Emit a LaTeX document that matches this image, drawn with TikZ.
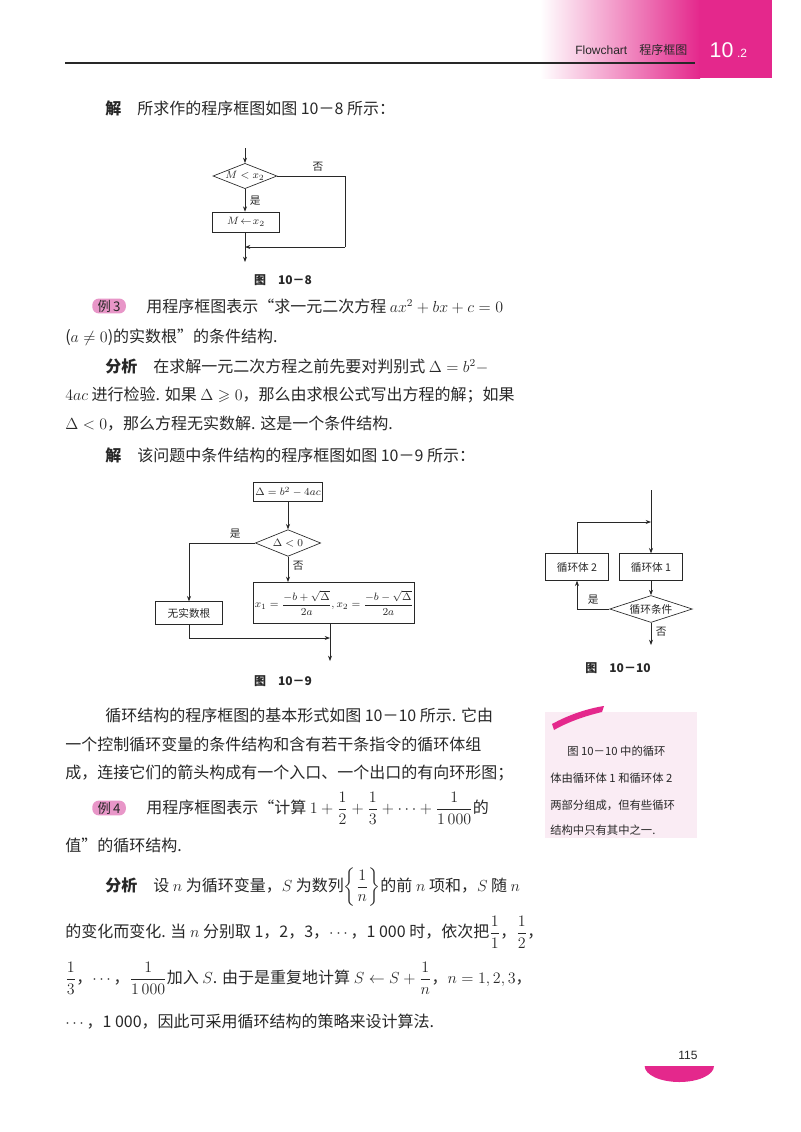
\documentclass[tikz,border=0pt]{standalone}
\usepackage{amsmath,amssymb}
\usepackage{fontspec}
\setmainfont{Noto Sans CJK SC}
\newfontfamily\hdfont{Liberation Sans}
\usetikzlibrary{shapes.geometric,arrows.meta}
\definecolor{pinkM}{RGB}{228,40,140}
\definecolor{pinkL}{RGB}{232,150,200}
\definecolor{noteBg}{RGB}{250,236,244}
\definecolor{ink}{RGB}{40,40,40}
\begin{document}
\begin{tikzpicture}[x=0.75pt,y=-0.75pt,
  txt/.style={anchor=west,inner sep=0pt,font=\fontsize{12}{13}\selectfont,text=ink},
  dtxt/.style={font=\fontsize{8}{9}\selectfont,text=ink},
  fbox/.style={draw=ink,line width=0.5pt,inner sep=1pt,dtxt},
  fdia/.style={diamond,draw=ink,line width=0.5pt,inner sep=0pt,aspect=2.5,dtxt},
  conn/.style={draw=ink,line width=0.5pt},
  arr/.style={conn,-{Stealth[length=4pt,width=3pt]}},
  figcap/.style={font=\fontsize{9}{10}\selectfont\bfseries,text=ink},
  tag/.style={fill=pinkL,rounded corners=5pt,inner xsep=4pt,inner ysep=1pt,font=\fontsize{10}{11}\selectfont,text=ink,anchor=west},
  note/.style={anchor=west,inner sep=0pt,font=\fontsize{8.5}{10}\selectfont,text=ink}]
\useasboundingbox (0,0) rectangle (800,1132);
\fill[white] (0,0) rectangle (800,1132);
% header
\shade[left color=white,right color=pinkM] (540,0) rectangle (700,78);
\fill[pinkM] (699,0) rectangle (772,78);
\draw[ink,line width=0.8pt] (65,63) -- (695,63);
\node[anchor=east,font=\fontsize{9}{10}\selectfont,text=ink] (hd) at (692,50) {{\hdfont Flowchart}\quad 程序框图};
\node[anchor=west,font=\hdfont\fontsize{16}{18}\selectfont,text=white] (hn) at (705,50) {10\,{\fontsize{9}{10}\selectfont .2}};
% text
\node[txt] (t1) at (105,108) {\textbf{解}\quad 所求作的程序框图如图 10－8 所示：};
% fig 10-8
\node[fdia,minimum width=48pt,minimum height=19pt] (d1) at (245,176) {$M<x_2$};
\coordinate (e1) at (245,148);
\draw[arr] (e1) -- (d1.north);
\node[fbox,minimum width=50pt,minimum height=15pt] (b1) at (246,222) {$M\!\leftarrow\! x_2$};
\draw[arr] (d1.south) -- node[right,dtxt]{是} (b1.north -| d1.south);
\coordinate (r1) at (345,176);
\coordinate (o1) at (245,262);
\path (d1.east) -- node[above,dtxt,pos=0.6]{否} (r1);
\draw[conn] (d1.east) -- (r1) -- (345,247);
\coordinate (j1) at (245,247);
\draw[arr] (345,247) -- (j1);
\draw[arr] (b1.south -| d1.south) -- (o1);
\node[figcap] (c1) at (283,280) {图\quad 10－8};
% example 3
\node[tag] (ex3) at (92,306) {例\,3};
\node[txt] (t2) at (146,306) {用程序框图表示“求一元二次方程 $ax^2+bx+c=0$};
\node[txt] (t3) at (65,337) {($a\neq0$)的实数根”的条件结构.};
\node[txt] (t4) at (105,366) {\textbf{分析}\quad 在求解一元二次方程之前先要对判别式 $\Delta=b^2-$};
\node[txt] (t5) at (65,395) {$4ac$ 进行检验. 如果 $\Delta\geqslant0$，那么由求根公式写出方程的解；如果};
\node[txt] (t6) at (65,424) {$\Delta<0$，那么方程无实数解. 这是一个条件结构.};
\node[txt] (t7) at (105,455) {\textbf{解}\quad 该问题中条件结构的程序框图如图 10－9 所示：};
% fig 10-9
\node[fbox,minimum width=52pt,minimum height=14pt] (b2) at (288,492) {$\Delta=b^2-4ac$};
\node[fdia,minimum width=49pt,minimum height=20pt] (d2) at (288,543) {$\Delta<0$};
\draw[arr] (b2.south) -- (d2.north);
\node[fbox,minimum width=50pt,minimum height=17pt] (b3) at (189,613) {无实数根};
\node[fbox,minimum width=116pt,minimum height=31pt] (b4) at (334,603) {$x_1=\dfrac{-b+\sqrt{\Delta}}{2a},x_2=\dfrac{-b-\sqrt{\Delta}}{2a}$};
\coordinate (l2) at (189,543);
\draw[conn] (d2.west) -- node[above,dtxt,pos=0.3]{是} (l2);
\draw[arr] (l2) -- (b3.north);
\draw[arr] (d2.south) -- node[right,dtxt,pos=0.35]{否} (d2.south |- b4.north);
\coordinate (l3) at (189,638);
\coordinate (j2) at (330,638);
\draw[conn] (b3.south) -- (l3);
\draw[arr] (l3) -- (j2);
\coordinate (o2) at (330,661);
\draw[arr] (b4.south -| o2) -- (o2);
\node[figcap] (c2) at (283,681) {图\quad 10－9};
% fig 10-10
\node[fbox,minimum width=47pt,minimum height=20pt] (b5) at (651,567) {循环体 1};
\node[fbox,minimum width=47pt,minimum height=20pt] (b6) at (577,567) {循环体 2};
\node[fdia,minimum width=62pt,minimum height=18pt] (d3) at (651,609) {循环条件};
\coordinate (e3) at (651,490);
\coordinate (j3) at (651,522);
\coordinate (u3) at (577,522);
\draw[arr] (e3) -- (b5.north);
\draw[conn] (b6.north) -- (u3);
\draw[arr] (u3) -- (j3);
\draw[arr] (b5.south) -- (d3.north);
\coordinate (l4) at (577,609);
\draw[conn] (d3.west) -- node[above,dtxt,pos=0.5]{是} (l4);
\draw[arr] (l4) -- (b6.south);
\coordinate (o3) at (651,645);
\draw[arr] (d3.south) -- node[right,dtxt,pos=0.4]{否} (o3);
\node[figcap] (c3) at (618,668) {图\quad 10－10};
% side note
\fill[noteBg] (545,712) rectangle (697,838);
\fill[pinkM] (552,724) .. controls (570,714) and (590,708) .. (604,706) -- (602,712) .. controls (585,716) and (568,722) .. (554,730) -- cycle;
\node[note] (n1) at (567,751) {图 10－10 中的循环};
\node[note] (n2) at (550,778) {体由循环体 1 和循环体 2};
\node[note] (n3) at (550,805) {两部分组成，但有些循环};
\node[note] (n4) at (550,830) {结构中只有其中之一.};
% paragraph
\node[txt] (t8) at (105,715) {循环结构的程序框图的基本形式如图 10－10 所示. 它由};
\node[txt] (t9) at (65,744) {一个控制循环变量的条件结构和含有若干条指令的循环体组};
\node[txt] (t10) at (65,773) {成，连接它们的箭头构成有一个入口、一个出口的有向环形图；};
\node[tag] (ex4) at (92,808) {例\,4};
\node[txt] (t11) at (146,808) {用程序框图表示“计算 $1+\dfrac12+\dfrac13+\cdots+\dfrac{1}{1\,000}$的};
\node[txt] (t12) at (65,845) {值”的循环结构.};
\node[txt] (t13) at (105,887) {\textbf{分析}\quad 设 $n$ 为循环变量，$S$ 为数列$\left\{\dfrac1n\right\}$的前 $n$ 项和，$S$ 随 $n$};
\node[txt] (t14) at (65,932) {的变化而变化. 当 $n$ 分别取 1，2，3，$\cdots$，1 000 时，依次把$\dfrac11$，$\dfrac12$，};
\node[txt] (t15) at (65,978) {$\dfrac13$，$\cdots$，$\dfrac1{1\,000}$加入 $S$. 由于是重复地计算 $S\leftarrow S+\dfrac1n$，$n=1,2,3$，};
\node[txt] (t16) at (65,1022) {$\cdots$，1 000，因此可采用循环结构的策略来设计算法.};
% page number
\node[font=\hdfont\fontsize{9}{10}\selectfont,text=ink] (pg) at (688,1055) {115};
\fill[pinkM] (662,1066) -- (714,1066) arc (0:-180:26pt and 12pt) -- cycle;
\end{tikzpicture}
\end{document}
